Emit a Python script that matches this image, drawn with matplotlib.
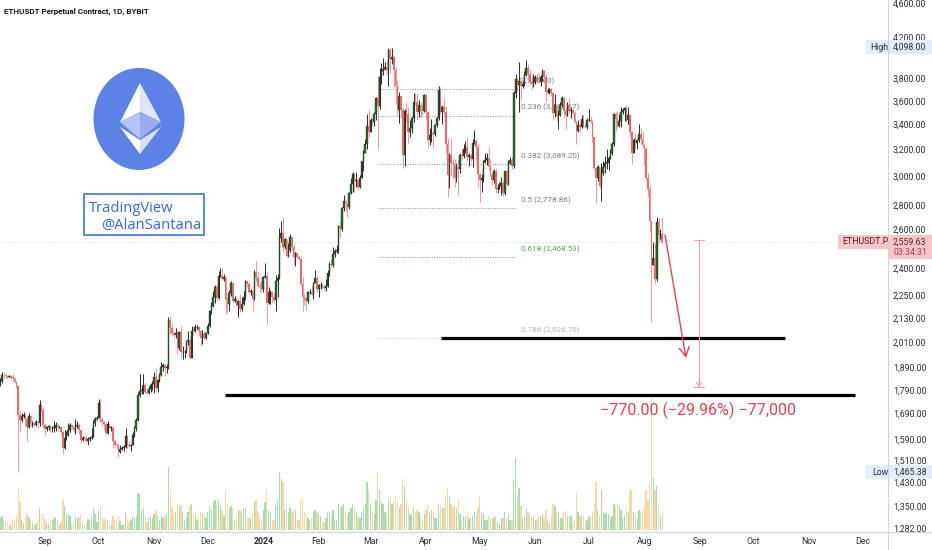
import numpy as np
import pandas as pd
import matplotlib
matplotlib.use("Agg")
import matplotlib.pyplot as plt
from matplotlib.patches import Rectangle, Ellipse, Polygon
from matplotlib.ticker import FixedLocator, FuncFormatter, NullLocator

plt.rcParams['font.family'] = ['Roboto', 'DejaVu Sans']

# ---------------- DATA (daily ETHUSDT perp, Aug 7 2023 -> Aug 11 2024) ----------------
first_open = 1824

close_aug23 = [1828,1855,1853,1850,1848,1850,1843,1842,1825,1806,1685,1665,1680,1685,1667,1635,1680,1650,1650,1645,1657,1652,1727,1705,1645]
high_aug23 = [1840,1870,1870,1862,1855,1856,1853,1860,1848,1830,1810,1700,1690,1695,1686,1675,1690,1682,1660,1652,1662,1665,1745,1730,1715]
low_aug23 = [1805,1820,1842,1842,1840,1845,1838,1830,1820,1798,1465.38,1620,1655,1670,1640,1580,1630,1640,1635,1640,1640,1630,1640,1695,1630]

close_sep23 = [1628,1635,1638,1630,1632,1633,1645,1635,1635,1616,1553,1593,1606,1625,1642,1636,1622,1638,1645,1623,1584,1594,1593,1580,1588,1594,1598,1652,1668,1671]
high_sep23 = [1650,1640,1645,1645,1640,1660,1655,1650,1640,1640,1618,1625,1620,1650,1650,1645,1640,1667,1660,1650,1625,1600,1600,1600,1595,1600,1630,1665,1675,1680]
low_sep23 = [1605,1620,1625,1615,1615,1615,1620,1620,1630,1605,1531,1550,1585,1600,1615,1630,1615,1610,1630,1610,1575,1580,1588,1575,1565,1580,1590,1595,1640,1662]

close_oct23 = [1733,1663,1656,1647,1611,1646,1633,1633,1580,1567,1566,1540,1552,1556,1557,1600,1565,1564,1565,1605,1630,1664,1768,1786,1787,1811,1781,1775,1794,1810,1815]
high_oct23 = [1750,1745,1675,1660,1655,1660,1650,1640,1640,1590,1575,1570,1565,1562,1565,1630,1604,1580,1570,1615,1640,1670,1780,1860,1810,1860,1820,1795,1805,1820,1830]
low_oct23 = [1670,1655,1640,1625,1605,1610,1630,1620,1555,1560,1550,1522,1535,1548,1545,1555,1555,1555,1545,1565,1598,1620,1660,1760,1770,1770,1770,1770,1770,1780,1790]

close_nov23 = [1847,1797,1832,1857,1893,1899,1886,1889,2120,2077,2052,2044,2055,1978,2058,1961,1961,1961,2012,2020,1931,2063,2062,2081,2083,2063,2028,2048,2029,2052]
high_nov23 = [1868,1880,1835,1865,1915,1910,1905,1905,2135,2140,2100,2065,2080,2065,2065,2090,1990,1970,2015,2065,2030,2090,2080,2100,2095,2088,2070,2070,2065,2055]
low_nov23 = [1775,1785,1780,1825,1850,1875,1850,1865,1880,2050,2040,2030,2030,1950,1970,1935,1930,1935,1955,1995,1930,1935,2045,2060,2075,2040,1990,2000,2020,2025]

close_dec23 = [2088,2163,2193,2241,2293,2233,2358,2358,2342,2352,2225,2203,2260,2315,2220,2228,2196,2217,2177,2200,2240,2326,2314,2268,2272,2231,2378,2344,2300,2292,2282]
high_dec23 = [2105,2170,2215,2275,2305,2310,2385,2400,2405,2370,2355,2240,2280,2330,2320,2245,2240,2225,2255,2240,2270,2335,2330,2320,2285,2280,2390,2445,2385,2320,2320]
low_dec23 = [2050,2085,2150,2185,2210,2220,2230,2350,2335,2330,2150,2160,2165,2245,2205,2215,2190,2135,2160,2165,2195,2225,2295,2260,2250,2165,2225,2330,2290,2270,2265]

close_jan24 = [2352,2356,2210,2267,2268,2240,2222,2330,2343,2585,2617,2525,2575,2472,2512,2587,2528,2468,2490,2470,2454,2310,2240,2236,2219,2267,2268,2257,2317,2343,2283]
high_jan24 = [2355,2430,2385,2295,2280,2275,2260,2360,2370,2645,2690,2717,2585,2580,2555,2610,2590,2545,2495,2485,2480,2465,2350,2255,2240,2275,2285,2300,2320,2390,2355]
low_jan24 = [2265,2345,2100,2200,2200,2215,2215,2165,2240,2340,2560,2500,2515,2470,2470,2500,2510,2425,2415,2460,2450,2300,2165,2195,2170,2210,2255,2245,2230,2315,2265]

close_feb24 = [2305,2306,2297,2290,2300,2372,2425,2420,2486,2501,2507,2660,2642,2777,2824,2803,2785,2881,2944,3014,2966,2970,2923,2990,3113,3176,3243,3385,3340]
high_feb24 = [2310,2325,2310,2310,2340,2390,2435,2450,2530,2515,2540,2665,2685,2785,2865,2830,2810,2890,2985,3030,3010,3030,2980,3005,3115,3195,3285,3485,3520]
low_feb24 = [2240,2285,2290,2270,2275,2295,2355,2410,2410,2470,2490,2490,2590,2630,2760,2760,2720,2770,2875,2890,2885,2925,2900,2915,2990,3040,3170,3205,3300]

close_mar24 = [3433,3420,3487,3626,3553,3817,3870,3885,3910,3880,4066,3981,4004,3882,3735,3522,3645,3518,3160,3515,3490,3335,3370,3455,3590,3586,3500,3561,3510,3508,3647]
high_mar24 = [3450,3455,3500,3630,3825,3900,3940,3995,3950,3960,4085,4098,4085,4015,3910,3785,3680,3610,3545,3530,3590,3545,3435,3465,3665,3670,3665,3610,3590,3565,3655]
low_mar24 = [3335,3395,3385,3440,3200,3525,3750,3830,3880,3830,3730,3850,3935,3720,3570,3480,3410,3455,3060,3075,3420,3250,3300,3330,3420,3560,3440,3465,3460,3480,3505]

close_apr24 = [3504,3278,3310,3330,3318,3391,3450,3697,3505,3545,3502,3240,3010,3157,3100,3087,2984,3064,3056,3155,3147,3200,3219,3139,3155,3129,3254,3263,3216,3014]
high_apr24 = [3655,3510,3370,3445,3345,3405,3460,3730,3720,3565,3615,3555,3290,3175,3280,3125,3125,3095,3120,3175,3200,3240,3265,3290,3175,3165,3285,3355,3285,3250]
low_apr24 = [3440,3210,3235,3260,3210,3305,3380,3440,3490,3405,3480,3175,2850,2915,3000,2990,2920,2960,2865,3020,3125,3135,3170,3110,3075,3105,3070,3245,3110,2920]

close_may24 = [2970,2990,3103,3118,3137,3065,3005,2975,3037,2910,2913,2930,2951,2882,3036,2945,3095,3122,3071,3665,3790,3740,3780,3730,3750,3828,3893,3843,3768,3747,3763]
high_may24 = [3020,3015,3120,3170,3170,3220,3130,3030,3055,3050,2945,2960,2995,2960,3040,3045,3120,3145,3140,3690,3840,3815,3950,3780,3780,3865,3975,3930,3885,3825,3845]
low_may24 = [2815,2890,2955,3095,3080,3045,3000,2935,2950,2880,2880,2905,2865,2860,2865,2930,2935,3090,3050,3060,3625,3675,3500,3610,3715,3730,3825,3775,3745,3705,3720]

close_jun24 = [3815,3780,3767,3810,3865,3812,3680,3680,3705,3667,3497,3560,3468,3480,3565,3620,3510,3482,3560,3515,3520,3495,3420,3350,3395,3375,3448,3380,3377,3433]
high_jun24 = [3835,3840,3850,3830,3885,3880,3840,3715,3715,3715,3675,3655,3565,3520,3585,3645,3630,3530,3590,3625,3545,3530,3515,3425,3435,3410,3480,3490,3405,3455]
low_jun24 = [3750,3755,3755,3730,3775,3755,3600,3670,3655,3645,3435,3465,3430,3360,3470,3545,3460,3365,3470,3500,3450,3485,3410,3240,3335,3340,3370,3375,3370,3365]

close_jul24 = [3440,3420,3295,3058,2985,3067,2930,3020,3065,3100,3100,3135,3175,3245,3485,3445,3388,3426,3507,3517,3535,3440,3480,3337,3172,3275,3250,3272,3320,3280,3232]
high_jul24 = [3525,3470,3440,3300,3070,3080,3060,3100,3110,3150,3205,3150,3200,3260,3495,3500,3515,3490,3545,3535,3545,3565,3545,3485,3345,3290,3330,3285,3400,3370,3350]
low_jul24 = [3425,3410,3260,3050,2810,2965,2915,2825,3010,3025,3050,3045,3125,3160,3230,3350,3375,3375,3375,3485,3425,3420,3400,3300,3090,3170,3200,3205,3255,3245,3215]

close_aug24 = [3205,2990,2905,2690,2420,2460,2340,2685,2600,2610,2559.63]
high_aug24 = [3240,3220,3020,2935,2690,2560,2550,2720,2710,2640,2720]
low_aug24 = [3080,2975,2860,2630,2111,2420,2310,2330,2560,2580,2550]

vol_aug23 = [12,14,10,9,8,5,5,10,11,15,42,28,10,7,12,16,13,10,7,5,6,9,22,16,15]
vol_sep23 = [11,7,6,9,10,12,13,10,5,8,30,24,15,16,14,6,7,14,12,13,15,8,5,8,11,10,14,22,16,8]
vol_oct23 = [20,24,12,11,12,10,5,6,14,10,11,14,9,5,6,18,12,9,10,14,12,14,37,36,20,22,14,8,12,14,12]
vol_nov23 = [16,20,14,10,14,12,14,16,63,40,22,16,18,26,24,25,18,10,12,18,24,26,14,16,10,12,18,16,14,12]
vol_dec23 = [18,24,20,28,30,26,30,24,20,14,40,26,22,24,22,10,12,20,20,18,22,22,12,12,12,16,28,30,18,12,10]
vol_jan24 = [20,28,40,20,18,10,10,24,30,58,51,48,20,22,18,22,18,20,20,10,10,30,32,18,16,12,10,12,18,20,18]
vol_feb24 = [16,14,8,8,12,18,18,14,20,10,10,26,22,24,26,18,16,18,22,26,22,18,14,12,18,22,26,48,40]
vol_mar24 = [26,18,16,30,58,40,28,26,18,16,30,32,26,30,34,28,22,26,51,44,30,24,16,14,22,18,20,18,14,10,16]
vol_apr24 = [20,26,18,20,18,12,12,26,24,22,22,36,42,34,26,24,24,22,30,16,10,14,14,16,12,12,14,18,14,22]
vol_may24 = [33,18,16,10,10,14,12,12,12,14,8,6,12,12,18,12,16,10,10,50,72,36,42,24,12,14,22,18,16,14,14]
vol_jun24 = [10,10,14,14,16,12,20,10,8,14,26,24,18,18,12,12,18,20,14,14,14,8,10,37,18,14,14,14,8,10]
vol_jul24 = [14,12,18,26,48,20,14,40,18,16,18,16,12,14,26,24,26,24,20,12,14,20,18,40,40,18,14,12,20,18,20]
vol_aug24 = [24,40,30,46,135,52,40,44,26,14,16]

fib_levels = ["0.148", "0.236", "0.382", "0.5", "0.618", "0.786"]
fib_prices = [3704.60, 3473.17, 3089.20, 2778.86, 2468.53, 2026.70]
price_ticks = [4200, 3800, 3600, 3400, 3200, 3000, 2800, 2400, 2250, 2130,
               2010, 1890, 1790, 1690, 1590, 1510, 1430, 1350, 1282]
top_tick_label = "4,600.00"
tick_near_last = 2600
high_value = 4098.00
low_value = 1465.38
last_price = 2559.63
countdown = "03:34:31"
support_upper = 2026.70
support_lower = 1767
measure_from, measure_to = 2570, 1800
measure_text = "\u2212770.00 (\u221229.96%) \u221277,000"

closes = (close_aug23 + close_sep23 + close_oct23 + close_nov23 + close_dec23 + close_jan24 +
          close_feb24 + close_mar24 + close_apr24 + close_may24 + close_jun24 + close_jul24 + close_aug24)
highs = (high_aug23 + high_sep23 + high_oct23 + high_nov23 + high_dec23 + high_jan24 +
         high_feb24 + high_mar24 + high_apr24 + high_may24 + high_jun24 + high_jul24 + high_aug24)
lows = (low_aug23 + low_sep23 + low_oct23 + low_nov23 + low_dec23 + low_jan24 +
        low_feb24 + low_mar24 + low_apr24 + low_may24 + low_jun24 + low_jul24 + low_aug24)
vols = (vol_aug23 + vol_sep23 + vol_oct23 + vol_nov23 + vol_dec23 + vol_jan24 +
        vol_feb24 + vol_mar24 + vol_apr24 + vol_may24 + vol_jun24 + vol_jul24 + vol_aug24)

n = len(closes)
c = np.array(closes, float)
o = np.array([first_open] + closes[:-1], float)
h = np.maximum(np.array(highs, float), np.maximum(o, c))
l = np.minimum(np.array(lows, float), np.minimum(o, c))
v = np.array(vols, float)

ref = pd.Timestamp("2023-09-01")
dates = pd.date_range("2023-08-07", periods=n, freq="D")
xd = np.array((dates - ref).days, float)

month_starts = pd.date_range("2023-09-01", "2024-12-01", freq="MS")
month_x = np.array((month_starts - ref).days, float)
month_lbl = [("2024" if d.month == 1 else d.strftime("%b")) for d in month_starts]

# ---------------- LAYOUT ----------------
W, H = 932, 550
PLOT_R, PLOT_B = 888, 532
X0, PXD = 45.0, 1.789          # pixel of Sep 1 2023, pixels per day
def day_at(px):
    return (px - X0) / PXD

fig = plt.figure(figsize=(W / 100, H / 100), dpi=100)
fig.patch.set_facecolor("white")
rect = [0, (H - PLOT_B) / H, PLOT_R / W, PLOT_B / H]

axv = fig.add_axes(rect, zorder=0)
ax = fig.add_axes(rect, zorder=1)
ax.patch.set_alpha(0)

xlim = (day_at(0), day_at(PLOT_R))
ax.set_xlim(*xlim)
ax.set_yscale("log")
ax.set_ylim(1268.9, 4593.3)

# volume
axv.set_xlim(*xlim)
axv.set_ylim(-2, PLOT_B - 2)
axv.axis("off")
up = c >= o
axv.bar(xd[up], v[up], width=0.72, color="#a8ddae", lw=0)
axv.bar(xd[~up], v[~up], width=0.72, color="#fbd6a6", lw=0)

# candles
ax.vlines(xd[up], l[up], h[up], color="#333333", lw=0.75, zorder=3)
ax.vlines(xd[~up], l[~up], h[~up], color="#f39aa0", lw=0.75, zorder=3)
ax.bar(xd[up], np.maximum(c[up] - o[up], 2), bottom=o[up], width=0.88,
       color="#226b2b", edgecolor="#1a1a1a", lw=0.25, zorder=4)
ax.bar(xd[~up], np.maximum(o[~up] - c[~up], 2), bottom=c[~up], width=0.88,
       color="#f1666b", lw=0, zorder=4)

# current price line
ax.axhline(last_price, color="#dcdcdc", lw=0.6, ls=(0, (1, 2)), zorder=1)

# fib retracement
fx0, fx1, fxl = day_at(378), day_at(515), day_at(521)
fib_colors = ["#8e9199", "#8e9199", "#8e9199", "#8e9199", "#66bb6a", "#c8cbd2"]
for lvl, p, col in zip(fib_levels, fib_prices, fib_colors):
    end = day_at(441) if lvl == "0.786" else fx1
    ax.plot([fx0, end], [p, p], color=col, lw=0.7, ls=(0, (1, 1.5)), zorder=1)
    txt = f"({p:,.2f})" if lvl == "0.148" else f"{lvl} ({p:,.2f})"
    tx = day_at(519) if lvl == "0.148" else fxl
    tcol = "#787b86" if col == "#8e9199" else ("#4caf50" if lvl == "0.618" else "#b2b5be")
    ax.annotate(txt, xy=(tx, p), xytext=(0, 5.8), textcoords="offset points",
                fontsize=5.8, color=tcol, va="center", ha="left", zorder=2)

# support lines
ax.plot([day_at(441), day_at(785)], [support_upper, support_upper], color="black", lw=2.3,
        solid_capstyle="butt", zorder=5)
ax.plot([day_at(225), day_at(855)], [support_lower, support_lower], color="black", lw=2.3,
        solid_capstyle="butt", zorder=5)

# red projection arrow
ax.annotate("", xy=(day_at(686), 1933), xytext=(day_at(665), 2602),
            arrowprops=dict(arrowstyle="->,head_length=0.55,head_width=0.3", color="#e8404e",
                            lw=1.0, mutation_scale=12, shrinkA=0, shrinkB=0), zorder=6)

# measure tool
mx = day_at(699)
ax.plot([mx, mx], [measure_from, measure_to], color="#f5a3aa", lw=0.8, zorder=5)
for p in (measure_from, measure_to):
    ax.plot([mx - 2.8, mx + 2.8], [p, p], color="#f5a3aa", lw=0.8, zorder=5)
ax.annotate("", xy=(mx, measure_to), xytext=(mx, measure_to * 1.02),
            arrowprops=dict(arrowstyle="->,head_length=0.3,head_width=0.2", color="#f5a3aa",
                            lw=0.8, mutation_scale=10, shrinkA=0, shrinkB=0), zorder=5)
ax.text(day_at(698), 1704, measure_text, ha="center", va="center", fontsize=11.5,
        color="#e8414f", zorder=6)

# axes ticks
for s in ax.spines.values():
    s.set_visible(False)
ax.yaxis.tick_right()
ax.yaxis.set_major_locator(FixedLocator(price_ticks))
ax.yaxis.set_minor_locator(NullLocator())
ax.yaxis.set_major_formatter(FuncFormatter(lambda val, pos: f"{val:,.2f}"))
ax.tick_params(axis="y", length=0, pad=3.6, labelsize=6.3, labelcolor="#2a2e39")
ax.set_xticks(month_x)
xl = ax.set_xticklabels(month_lbl)
for t in xl:
    if t.get_text() == "2024":
        t.set_fontweight("bold")
ax.xaxis.set_minor_locator(NullLocator())
ax.tick_params(axis="x", length=0, pad=3.6, labelsize=6.3, labelcolor="#2a2e39")

# ---------------- OVERLAY (pixel coords) ----------------
ov = fig.add_axes([0, 0, 1, 1], zorder=5)
ov.set_xlim(0, W)
ov.set_ylim(H, 0)
ov.axis("off")

def py(price):
    return H - ax.transData.transform((0, price))[1]

ov.plot([PLOT_R, PLOT_R], [0, H], color="#d1d4dc", lw=0.8)
ov.plot([0, W], [PLOT_B, PLOT_B], color="#d1d4dc", lw=0.8)

ov.text(4, 11, "ETHUSDT Perpetual Contract, 1D, BYBIT", fontsize=5.8, fontweight="bold",
        color="#131722", va="center", ha="left")
ov.text(893, 4.5, top_tick_label, fontsize=6.3, color="#2a2e39", va="center", ha="left")

# High / Low labels
for name, val, nx in (("High", high_value, 870), ("Low", low_value, 872)):
    yy = py(val)
    ov.add_patch(Rectangle((866, yy - 7), W - 866, 14, color="#e3edfb", lw=0))
    ov.text(nx, yy, name, fontsize=6.3, color="#2a2e39", va="center", ha="left")
    ov.text(893, yy, f"{val:,.2f}", fontsize=6.3, color="#2a2e39", va="center", ha="left")

# last price label (the 2,600 tick sits just above it, partly tucked under)
yl = py(last_price)
ov.text(893, yl - 11.5, f"{tick_near_last:,.2f}", fontsize=6.3, color="#2a2e39",
        va="center", ha="left")
ov.add_patch(Rectangle((838, yl - 7), PLOT_R - 838, 14, color="#f8c6cb", lw=0))
ov.add_patch(Rectangle((PLOT_R, yl - 7), W - PLOT_R, 24, color="#f8c6cb", lw=0))
ov.text(842, yl, "ETHUSDT.P", fontsize=6.3, color="#5a1c22", va="center", ha="left")
ov.text(893, yl, f"{last_price:,.2f}", fontsize=6.3, color="#6b1f26", va="center", ha="left")
ov.text(893, yl + 11, countdown, fontsize=6.3, color="#b23a45", va="center", ha="left")

# Ethereum logo
ov.add_patch(Ellipse((139, 119), 91, 102, color="#5b82e4", lw=0))
T, Lp, Rp, Cm, M = (140, 83), (120, 122), (161, 122), (140, 112), (140, 139)
L2, R2, M2, B = (120, 127), (161, 127), (140, 140), (140, 154)
for pts, col in (([T, Lp, Cm], "#ffffff"), ([T, Rp, Cm], "#dfe6fb"),
                 ([Lp, Cm, M], "#b3c3f5"), ([Rp, Cm, M], "#97adee"),
                 ([L2, M2, B], "#ffffff"), ([R2, M2, B], "#d9e1fa")):
    ov.add_patch(Polygon(pts, closed=True, color=col, lw=0))

# TradingView box
ov.add_patch(Rectangle((84, 194), 120, 41, facecolor="white", edgecolor="#3d6fe8", lw=1.2))
ov.text(89, 209, "TradingView", fontsize=10.6, color="#3266e6", va="center", ha="left",
        family=["Open Sans", "DejaVu Sans"])
ov.text(101, 225.5, "@AlanSantana", fontsize=10.6, color="#3266e6", va="center", ha="left",
        family=["Open Sans", "DejaVu Sans"])

fig.savefig("out.png", dpi=100, facecolor="white")
